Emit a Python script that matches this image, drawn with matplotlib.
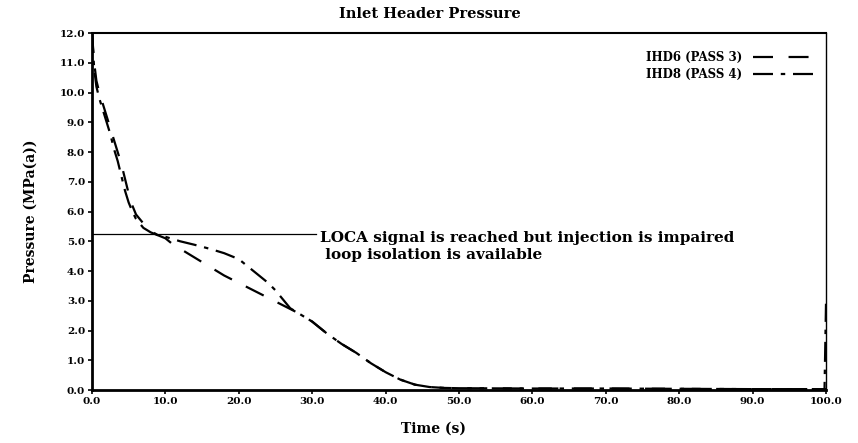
import numpy as np
import matplotlib
matplotlib.use("Agg")
import matplotlib.pyplot as plt

# values
t_pass3 = [0, 0.3, 0.6, 1.0, 1.5, 2.0, 2.5, 3.0, 3.5, 4.0, 4.5, 5.0, 5.5, 6.0, 7.0, 8.0,
           9.0, 10.0, 11.0, 12.0, 14.0, 16.0, 18.0, 20.0, 22.0, 24.0, 26.0, 28.0, 30.0,
           32.0, 34.0, 36.0, 38.0, 40.0, 42.0, 44.0, 46.0, 48.0, 50.0, 60.0, 70.0, 80.0,
           90.0, 100.0]
p_pass3 = [12.0, 11.0, 10.4, 10.0, 9.6, 9.2, 8.8, 8.4, 8.0, 7.6, 7.1, 6.6, 6.2, 5.9, 5.6,
           5.35, 5.2, 5.1, 4.9, 4.75, 4.45, 4.15, 3.85, 3.6, 3.35, 3.1, 2.85, 2.6, 2.3,
           1.9, 1.55, 1.25, 0.9, 0.6, 0.35, 0.18, 0.1, 0.07, 0.06, 0.05, 0.05, 0.04,
           0.03, 0.03]

t_pass4 = [0, 0.3, 0.6, 1.0, 1.5, 2.0, 2.5, 3.0, 3.5, 4.0, 4.5, 5.0, 5.5, 6.0, 7.0, 8.0,
           9.0, 10.0, 12.0, 14.0, 16.0, 18.0, 20.0, 21.0, 22.0, 23.0, 24.0, 25.0, 26.0,
           27.0, 28.0, 30.0, 32.0, 34.0, 36.0, 38.0, 40.0, 42.0, 44.0, 46.0, 48.0, 50.0,
           60.0, 70.0, 80.0, 90.0, 99.8, 100.0]
p_pass4 = [12.0, 10.8, 10.2, 9.8, 9.4, 9.0, 8.6, 8.1, 7.7, 7.2, 6.7, 6.3, 6.0, 5.75, 5.45,
           5.3, 5.2, 5.15, 5.0, 4.88, 4.75, 4.6, 4.4, 4.2, 4.0, 3.8, 3.6, 3.35, 3.05,
           2.75, 2.6, 2.3, 1.9, 1.55, 1.25, 0.9, 0.6, 0.35, 0.18, 0.1, 0.07, 0.06,
           0.05, 0.05, 0.04, 0.03, 0.03, 2.9]

loca_level = 5.25
x_ticks = np.arange(0, 101, 10)
y_ticks = np.arange(0, 13, 1)

plt.rcParams['font.family'] = ['DejaVu Serif']
plt.rcParams['font.weight'] = 'bold'
plt.rcParams['axes.titleweight'] = 'bold'
plt.rcParams['axes.labelweight'] = 'bold'

fig = plt.figure(figsize=(8.58, 4.43), dpi=100)
ax = fig.add_axes([0.1072, 0.1196, 0.8555, 0.8059])

ax.plot(t_pass3, p_pass3, color='black', lw=1.6, dashes=(9, 7), label='IHD6 (PASS 3)')
ax.plot(t_pass4, p_pass4, color='black', lw=1.6, dashes=(9, 3.5, 2, 3.5), label='IHD8 (PASS 4)')

ax.plot([0, 30.5], [loca_level, loca_level], color='black', lw=0.9)
ax.text(31.0, loca_level + 0.1, 'LOCA signal is reached but injection is impaired\n loop isolation is available',
        fontsize=11, va='top', ha='left', linespacing=1.3)

ax.set_xlim(0, 100)
ax.set_ylim(0, 12)
ax.set_xticks(x_ticks)
ax.set_yticks(y_ticks)
ax.set_xticklabels(['%.1f' % v for v in x_ticks])
ax.set_yticklabels(['%.1f' % v for v in y_ticks])
ax.tick_params(labelsize=7.5, length=3, width=1.2, pad=2)

ax.spines['left'].set_linewidth(2.0)
ax.spines['bottom'].set_linewidth(2.0)
ax.spines['top'].set_linewidth(1.5)
ax.spines['right'].set_linewidth(1.0)

ax.set_title('Inlet Header Pressure', fontsize=10.5, pad=11, x=0.46)
ax.set_xlabel('Time (s)', fontsize=10, labelpad=11)
ax.xaxis.label.set_x(0.465)
ax.set_ylabel('Pressure (MPa(a))', fontsize=10, labelpad=16)

leg = ax.legend(loc='upper right', bbox_to_anchor=(0.989, 0.95), frameon=False,
                fontsize=8.5, handlelength=5.5, handletextpad=0.9, markerfirst=False,
                labelspacing=0.35, borderaxespad=0, borderpad=0)

fig.savefig('out.png', dpi=100)
